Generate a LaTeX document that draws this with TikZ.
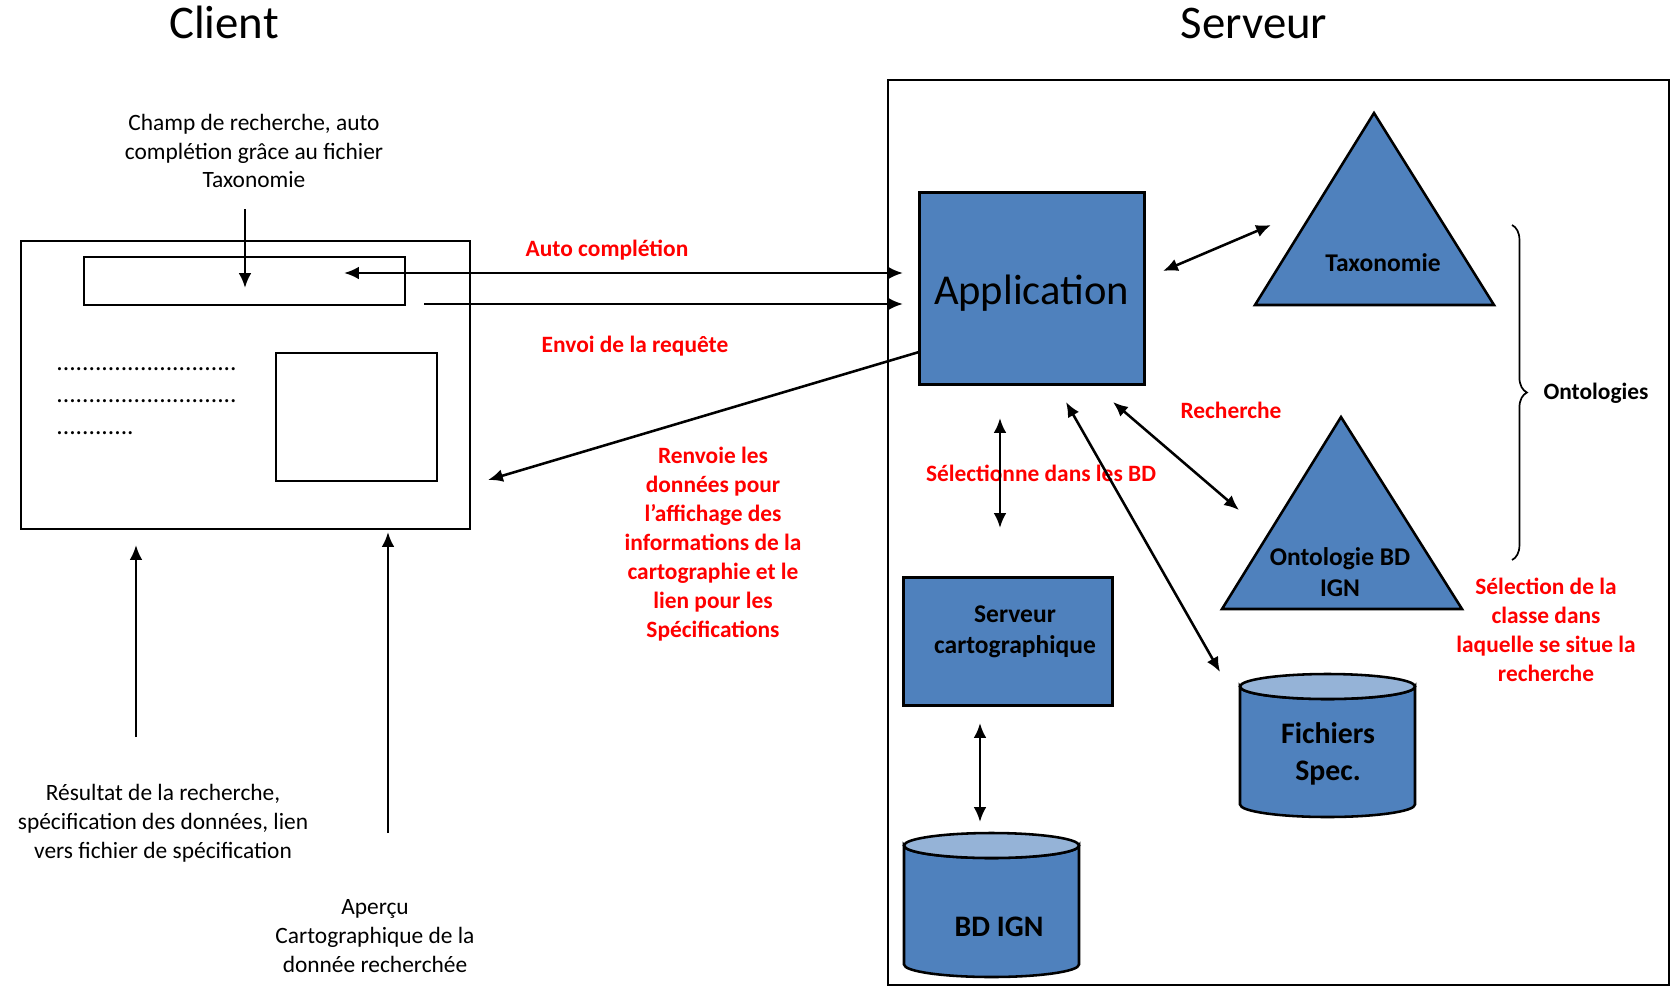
\documentclass[tikz,border=0pt]{standalone}
\usepackage{fontspec}
\setmainfont{Carlito}
\usetikzlibrary{arrows.meta,decorations.pathreplacing}

\definecolor{bleuoffice}{RGB}{79,129,189}
\definecolor{bleuclair}{RGB}{149,179,215}
\newcommand{\px}{0.47pt}

\tikzset{
	cadre/.style={draw, line width=1pt, inner sep=0pt},
	bloc/.style={draw, line width=1.4pt, fill=bleuoffice, inner sep=0pt},
	tri/.style={draw, line width=1.2pt, fill=bleuoffice, line join=miter},
	cuve/.style={draw, line width=1.2pt, fill=bleuoffice},
	couvercle/.style={draw, line width=1.2pt, fill=bleuclair},
	legende/.style={align=center, font=\fontsize{11}{13.6}\selectfont},
	etiquette/.style={align=center, text=red, font=\bfseries\fontsize{11}{13.6}\selectfont},
	gras/.style={align=center, font=\bfseries\fontsize{12}{14.6}\selectfont},
	grandgras/.style={align=center, font=\bfseries\fontsize{14}{17.4}\selectfont},
	titre/.style={anchor=base, font=\fontsize{22}{26}\selectfont},
	points/.style={anchor=base west, inner sep=0pt, font=\fontsize{12}{14}\selectfont},
	fleche/.style={line width=1.2pt},
}

\begin{document}
\begin{tikzpicture}[x=\px, y=-\px, >={Latex[length=7pt,width=6pt]}]
		\useasboundingbox (0,0) rectangle (1675,987);
		\node[titre] (client) at (224,38) {Client};
		\node[titre] (serveur) at (1254,38) {Serveur};

		\node[cadre, minimum width=449*\px, minimum height=288*\px] (ecran) at (245.5,385) {};
		\node[cadre, minimum width=321*\px, minimum height=48*\px] (champ) at (244.5,281) {};
		\node[cadre, minimum width=161*\px, minimum height=128*\px] (apercu) at (356.5,417) {};
		\node[points] (ligne1) at (56,370) {............................};
		\node[points] (ligne2) at (56,402) {............................};
		\node[points] (ligne3) at (56,434) {............};

		\node[legende] (legchamp) at (254,151) {Champ de recherche, auto\\complétion grâce au fichier\\Taxonomie};
		\node[legende] (legresultat) at (163,823) {Résultat de la recherche,\\spécification des données, lien\\vers fichier de spécification};
		\node[legende] (legapercu) at (375,936) {Aperçu\\Cartographique de la\\donnée recherchée};

		\node[draw, line width=1pt, minimum width=781*\px, minimum height=905*\px] (serv) at (1278.5,532.5) {};
		\node[bloc, minimum width=225*\px, minimum height=192*\px] (app) at (1031.5,288.5) {};
		\node[font=\fontsize{20}{24}\selectfont] (apptxt) at (1031.5,293) {Application};
		\node[bloc, minimum width=209*\px, minimum height=128*\px] (carto) at (1007.5,641) {};
		\node[gras] (cartotxt) at (1015,632) {Serveur\\cartographique};

		\path[cuve] (904,845.5) -- (904,964.5) arc[start angle=180, end angle=0, x radius=87.5, y radius=12.5] -- (1079,845.5) arc[start angle=0, end angle=180, x radius=87.5, y radius=12.5] -- cycle;
		\path[couvercle] (991.5,845.5) ellipse[x radius=87.5, y radius=12.5];
		\node[grandgras] (bdign) at (999,927) {BD IGN};
		\path[cuve] (1240,686.5) -- (1240,804.5) arc[start angle=180, end angle=0, x radius=87.5, y radius=12.5] -- (1415,686.5) arc[start angle=0, end angle=180, x radius=87.5, y radius=12.5] -- cycle;
		\path[couvercle] (1327.5,686.5) ellipse[x radius=87.5, y radius=12.5];
		\node[grandgras] (fichiers) at (1328,754) {Fichiers\\Spec.};

		\path[tri] (1255,305) -- (1374,113) -- (1494,305) -- cycle;
		\node[gras] (taxo) at (1383,263) {Taxonomie};
		\path[tri] (1222,609) -- (1341,417) -- (1462,609) -- cycle;
		\node[gras] (onto) at (1340,572) {Ontologie BD\\IGN};
		\draw[line width=0.8pt, decorate, decoration={brace, amplitude=7pt}] (1512,225) -- (1512,560);
		\node[font=\bfseries\fontsize{11}{13.6}\selectfont] (ontologies) at (1596,393) {Ontologies};

		\node[etiquette] (autocomp) at (607,250) {Auto complétion};
		\node[etiquette] (envoi) at (635,346) {Envoi de la requête};
		\node[etiquette] (renvoi) at (713,544) {Renvoie les\\données pour\\l’affichage des\\informations de la\\cartographie et le\\lien pour les\\Spécifications};
		\node[etiquette] (recherche) at (1231,410) {Recherche};
		\node[etiquette] (selectbd) at (1041,473) {Sélectionne dans les BD};
		\node[etiquette] (selectclasse) at (1546,630) {Sélection de la\\classe dans\\laquelle se situe la\\recherche};

		\coordinate (ac-g) at (344,273);
		\coordinate (ac-d) at (903,273);
		\coordinate (req-g) at (424,304);
		\coordinate (req-d) at (903,304);
		\coordinate (ret-d) at (919,352);
		\coordinate (ret-g) at (488,480);
		\coordinate (champ-h) at (245,209);
		\coordinate (champ-b) at (245,288);
		\coordinate (res-b) at (136,737);
		\coordinate (res-h) at (136,545);
		\coordinate (ap-b) at (388,833);
		\coordinate (ap-h) at (388,532);
		\coordinate (tx-g) at (1163,271);
		\coordinate (tx-d) at (1271,225);
		\coordinate (sel-h) at (1000,418);
		\coordinate (sel-b) at (1000,528);
		\coordinate (rch-h) at (1113,402);
		\coordinate (rch-b) at (1239,510);
		\coordinate (fic-h) at (1066,402);
		\coordinate (fic-b) at (1220,672);
		\coordinate (bd-h) at (980,723);
		\coordinate (bd-b) at (980,822);

		\draw[fleche, <->] (ac-g) -- (ac-d);
		\draw[fleche, ->] (req-g) -- (req-d);
		\draw[fleche, ->] (ret-d) -- (ret-g);
		\draw[fleche, ->] (champ-h) -- (champ-b);
		\draw[fleche, ->] (res-b) -- (res-h);
		\draw[fleche, ->] (ap-b) -- (ap-h);
		\draw[fleche, <->] (tx-g) -- (tx-d);
		\draw[fleche, <->] (sel-h) -- (sel-b);
		\draw[fleche, <->] (rch-h) -- (rch-b);
		\draw[fleche, <->] (fic-h) -- (fic-b);
		\draw[fleche, <->] (bd-h) -- (bd-b);
\end{tikzpicture}
\end{document}
